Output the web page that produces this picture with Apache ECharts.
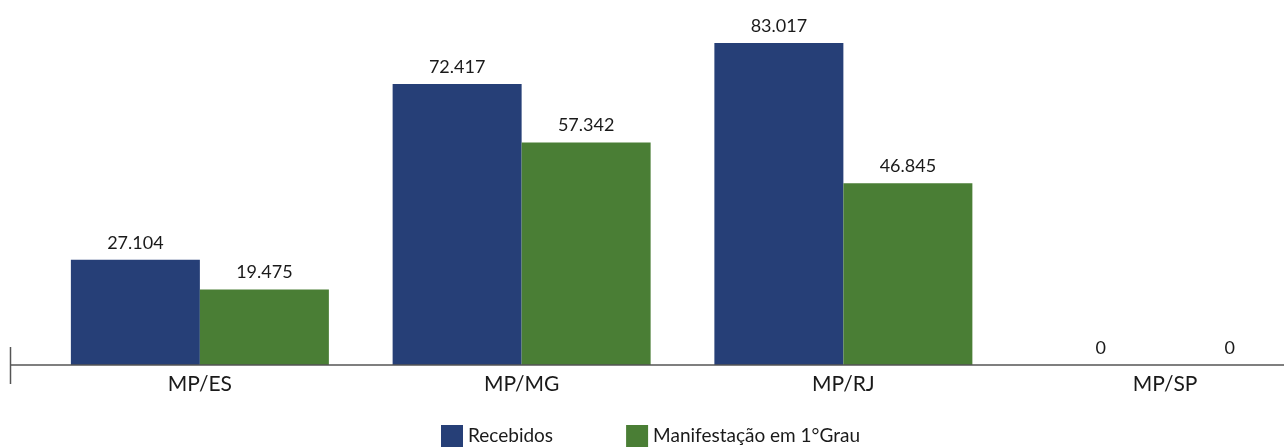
<!DOCTYPE html>
<html><head><meta charset="utf-8">
<script src="https://cdn.jsdelivr.net/npm/echarts@6/dist/echarts.min.js"></script>
<style>html,body{margin:0;padding:0;background:#fff}#c{width:1284px;height:448px}</style>
</head><body><div id="c"></div>
<script>
const categories = ['MP/ES', 'MP/MG', 'MP/RJ', 'MP/SP'];
const recebidos = [27104, 72417, 83017, 0];
const manifestacao = [19475, 57342, 46845, 0];
const seriesNames = ['Recebidos', 'Manifestação em 1°Grau'];

const fmt = v => String(v).replace(/\B(?=(\d{3})+(?!\d))/g, '.');
const font = 'Lato, "DejaVu Sans", sans-serif';
const chart = echarts.init(document.getElementById('c'), null, {renderer: 'canvas'});
const label = {show: true, position: 'top', distance: 8, color: '#1a1a1a', fontSize: 18, fontFamily: font,
  formatter: p => fmt(p.value)};
chart.setOption({
  animation: false,
  grid: {left: 39, top: 15.9, width: 1287, height: 349.1, outerBoundsMode: 'none', containLabel: false},
  legend: {left: 441, top: 425, padding: 0, itemWidth: 22, itemHeight: 22, itemGap: 73, icon: 'rect',
    textStyle: {fontSize: 19, color: '#1a1a1a', fontFamily: font}, data: seriesNames},
  xAxis: {type: 'category', data: categories,
    axisLine: {show: false}, axisTick: {show: false},
    axisLabel: {color: '#1a1a1a', fontSize: 21, fontFamily: font, margin: 9}},
  yAxis: {type: 'value', min: 0, max: 90000, show: false, splitLine: {show: false}},
  graphic: [
    {type: 'line', shape: {x1: 10, y1: 365, x2: 1284, y2: 365}, style: {stroke: '#555', lineWidth: 1.5}, z: 10},
    {type: 'line', shape: {x1: 10.5, y1: 347, x2: 10.5, y2: 384}, style: {stroke: '#555', lineWidth: 1.5}, z: 10}
  ],
  series: [
    {name: seriesNames[0], type: 'bar', data: recebidos, barWidth: 129, barGap: '0%',
      itemStyle: {color: '#263f77'}, label: label},
    {name: seriesNames[1], type: 'bar', data: manifestacao, barWidth: 129,
      itemStyle: {color: '#4a7e35'}, label: label}
  ]
});
</script></body></html>
